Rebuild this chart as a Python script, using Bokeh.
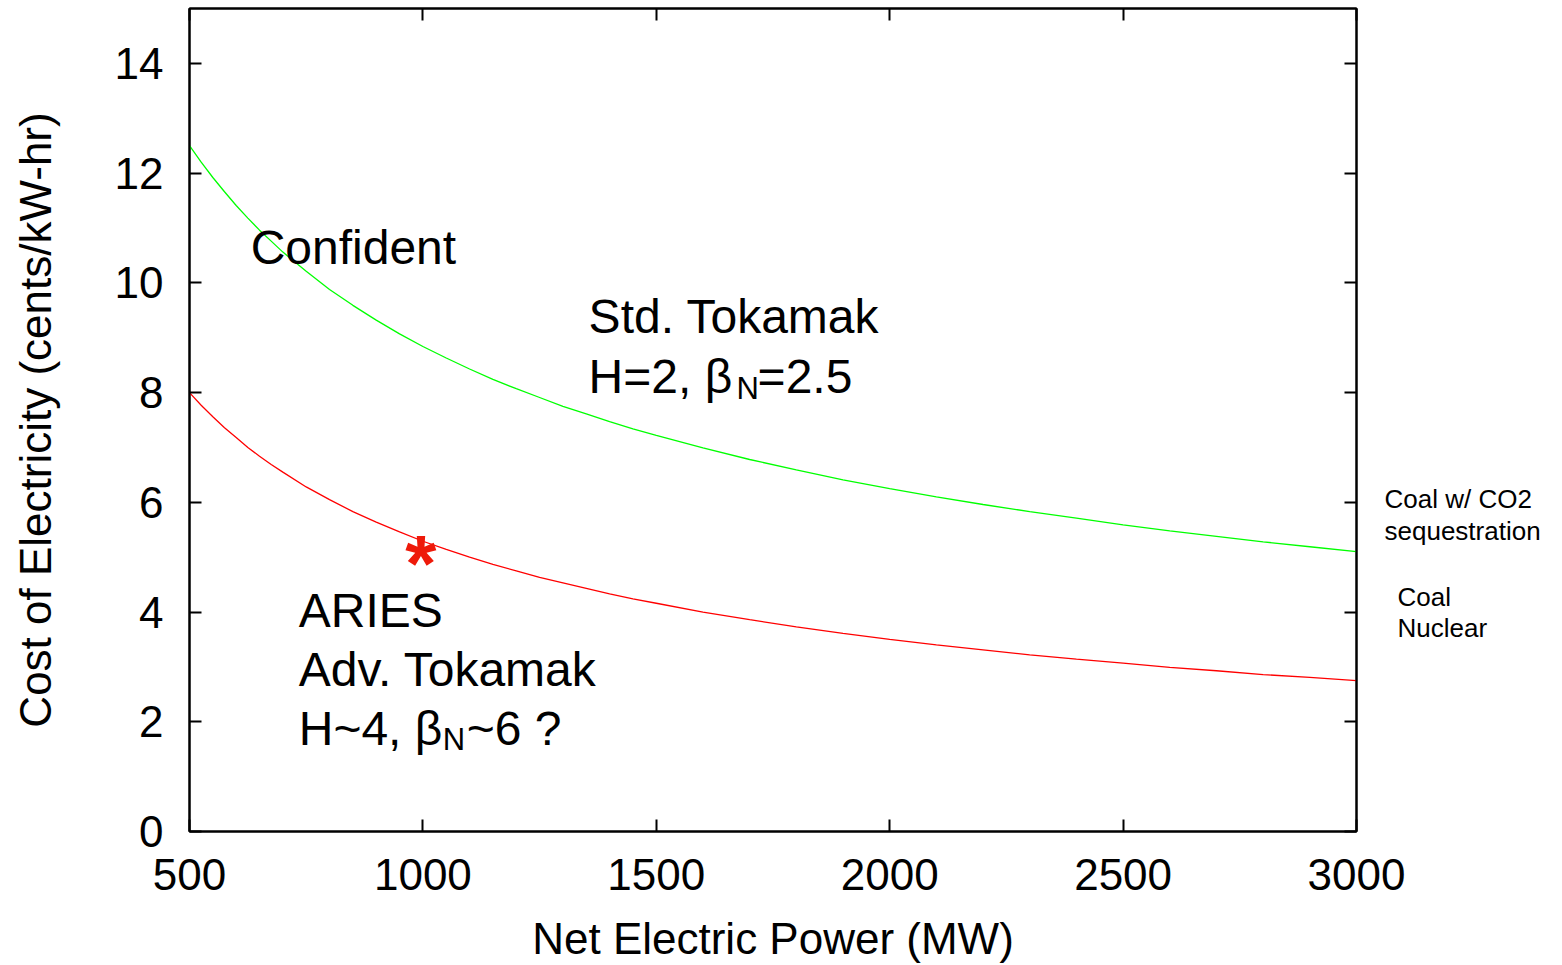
from bokeh.plotting import figure
from bokeh.models import Range1d, LinearAxis, FixedTicker, Label, CustomJSTickFormatter
from bokeh.core.properties import value
from bokeh.embed import file_html
from bokeh.resources import INLINE

# ---- data ----
power_mw = [500, 525, 550, 575, 600, 625, 650, 675, 700, 750, 800, 850, 900, 950, 1000,
            1050, 1100, 1150, 1200, 1250, 1300, 1350, 1400, 1450, 1500, 1600, 1700,
            1800, 1900, 2000, 2100, 2200, 2300, 2400, 2500, 2600, 2700, 2800, 2900, 3000]
std_tokamak_coe = [12.50, 12.20, 11.92, 11.66, 11.41, 11.18, 10.96, 10.76, 10.56, 10.21, 9.88,
                   9.59, 9.32, 9.07, 8.84, 8.63, 8.43, 8.24, 8.07, 7.91, 7.75, 7.61, 7.47,
                   7.34, 7.22, 6.99, 6.78, 6.59, 6.41, 6.25, 6.10, 5.96, 5.83, 5.71, 5.59,
                   5.48, 5.38, 5.28, 5.19, 5.10]
adv_tokamak_coe = [8.00, 7.77, 7.56, 7.36, 7.18, 7.00, 6.84, 6.69, 6.55, 6.28, 6.05,
                   5.83, 5.64, 5.46, 5.29, 5.14, 5.00, 4.87, 4.75, 4.63, 4.53, 4.43, 4.33,
                   4.24, 4.16, 4.00, 3.86, 3.73, 3.61, 3.50, 3.40, 3.31, 3.22, 3.14, 3.07,
                   2.99, 2.93, 2.86, 2.81, 2.75]
aries_power = [1000]
aries_coe = [5.15]
x_ticks = [500, 1000, 1500, 2000, 2500, 3000]
y_ticks = [0, 2, 4, 6, 8, 10, 12, 14]
side_levels = [3.70, 4.28, 5.48, 6.06]
side_labels = ["\u2002Nuclear", "\u2002Coal", "sequestration", "Coal w/ CO2"]

FONT = "Liberation Sans"
TICK_FS = "44px"
ANN_FS = "48px"
SUB_FS = "31px"
SIDE_FS = "26px"

p = figure(width=1560, height=965, output_backend="svg", toolbar_location=None,
           x_range=Range1d(500, 3000), y_range=Range1d(0, 15),
           min_border_left=189, min_border_right=204, min_border_top=8, min_border_bottom=134,
           x_axis_label="Net Electric Power (MW)",
           y_axis_label="Cost of Electricity (cents/kW-hr)")
p.grid.visible = False
p.outline_line_color = "black"
p.outline_line_width = 2
p.background_fill_color = "white"
p.border_fill_color = "white"

def style_axis(ax, ticks):
    ax.ticker = FixedTicker(ticks=ticks)
    ax.axis_line_width = 2
    ax.axis_line_color = "black"
    ax.major_tick_line_width = 2
    ax.major_tick_line_color = "black"
    ax.major_tick_in = 12
    ax.major_tick_out = 0
    ax.minor_tick_line_color = None
    ax.major_label_text_font = FONT
    ax.major_label_text_font_size = TICK_FS
    ax.major_label_text_color = "black"
    ax.axis_label_text_font = FONT
    ax.axis_label_text_font_size = TICK_FS
    ax.axis_label_text_font_style = "normal"
    ax.axis_label_text_color = "black"

style_axis(p.xaxis[0], x_ticks)
style_axis(p.yaxis[0], y_ticks)
p.xaxis[0].major_label_standoff = 27
p.xaxis[0].axis_label_standoff = 21
p.yaxis[0].major_label_standoff = 26
p.yaxis[0].axis_label_standoff = 52

# top axis: mirror ticks only (drawn as minor ticks, so no labels exist)
top_ax = LinearAxis()
top_ax.ticker = FixedTicker(ticks=[], minor_ticks=x_ticks)
top_ax.axis_line_width = 2
top_ax.axis_line_color = "black"
top_ax.major_tick_line_color = None
top_ax.minor_tick_line_color = "black"
top_ax.minor_tick_line_width = 2
top_ax.minor_tick_in = 12
top_ax.minor_tick_out = 0
top_ax.major_label_standoff = 0
p.add_layout(top_ax, "above")

# right axis: inward ticks at y_ticks (as minor ticks), side labels as major labels
right_ax = LinearAxis()
right_ax.ticker = FixedTicker(ticks=side_levels, minor_ticks=y_ticks)
right_ax.axis_line_width = 2
right_ax.axis_line_color = "black"
right_ax.major_tick_line_color = None
right_ax.major_tick_in = 0
right_ax.major_tick_out = 0
right_ax.minor_tick_line_color = "black"
right_ax.minor_tick_line_width = 2
right_ax.minor_tick_in = 12
right_ax.minor_tick_out = 0
right_ax.major_label_standoff = 28
right_ax.major_label_text_font = FONT
right_ax.major_label_text_font_size = SIDE_FS
right_ax.major_label_text_color = "black"
right_ax.formatter = CustomJSTickFormatter(
    args=dict(vals=side_levels, labs=side_labels),
    code="""
        for (let i = 0; i < vals.length; i++) {
            if (Math.abs(vals[i] - tick) < 1e-6) { return labs[i]; }
        }
        return "";
    """)
p.add_layout(right_ax, "right")

p.line(power_mw, std_tokamak_coe, line_color="#00ff00", line_width=1.3)
p.line(power_mw, adv_tokamak_coe, line_color="#ff0000", line_width=1.3)

p.text(x=aries_power, y=aries_coe, text=["*"], text_font=value(FONT), text_font_style="bold",
       text_font_size="80px", text_color="#ee1a0a", text_align="center",
       text_baseline="alphabetic", y_offset=15, x_offset=-2)

LIFT = 17

def lab(txt, x, y, fs=ANN_FS, xo=0, yo=0):
    p.add_layout(Label(x=x, y=y, text=txt, x_offset=xo, y_offset=yo + LIFT,
                       text_font=FONT, text_font_size=fs, text_color="black",
                       text_align="left", text_baseline="alphabetic"))

lab("Confident", 631, 10.34)
lab("Std. Tokamak", 1355, 9.08)
lab("H=2, \u03b2", 1355, 7.99)
lab("N", 1355, 7.99, fs=SUB_FS, xo=148, yo=-12)
lab("=2.5", 1355, 7.99, xo=169)
lab("ARIES", 734, 3.71)
lab("Adv. Tokamak", 734, 2.64)
lab("H~4, \u03b2", 734, 1.57)
lab("N", 734, 1.57, fs=SUB_FS, xo=144, yo=-11)
lab("~6 ?", 734, 1.57, xo=168)

open("out.html", "w").write(file_html(p, INLINE))
